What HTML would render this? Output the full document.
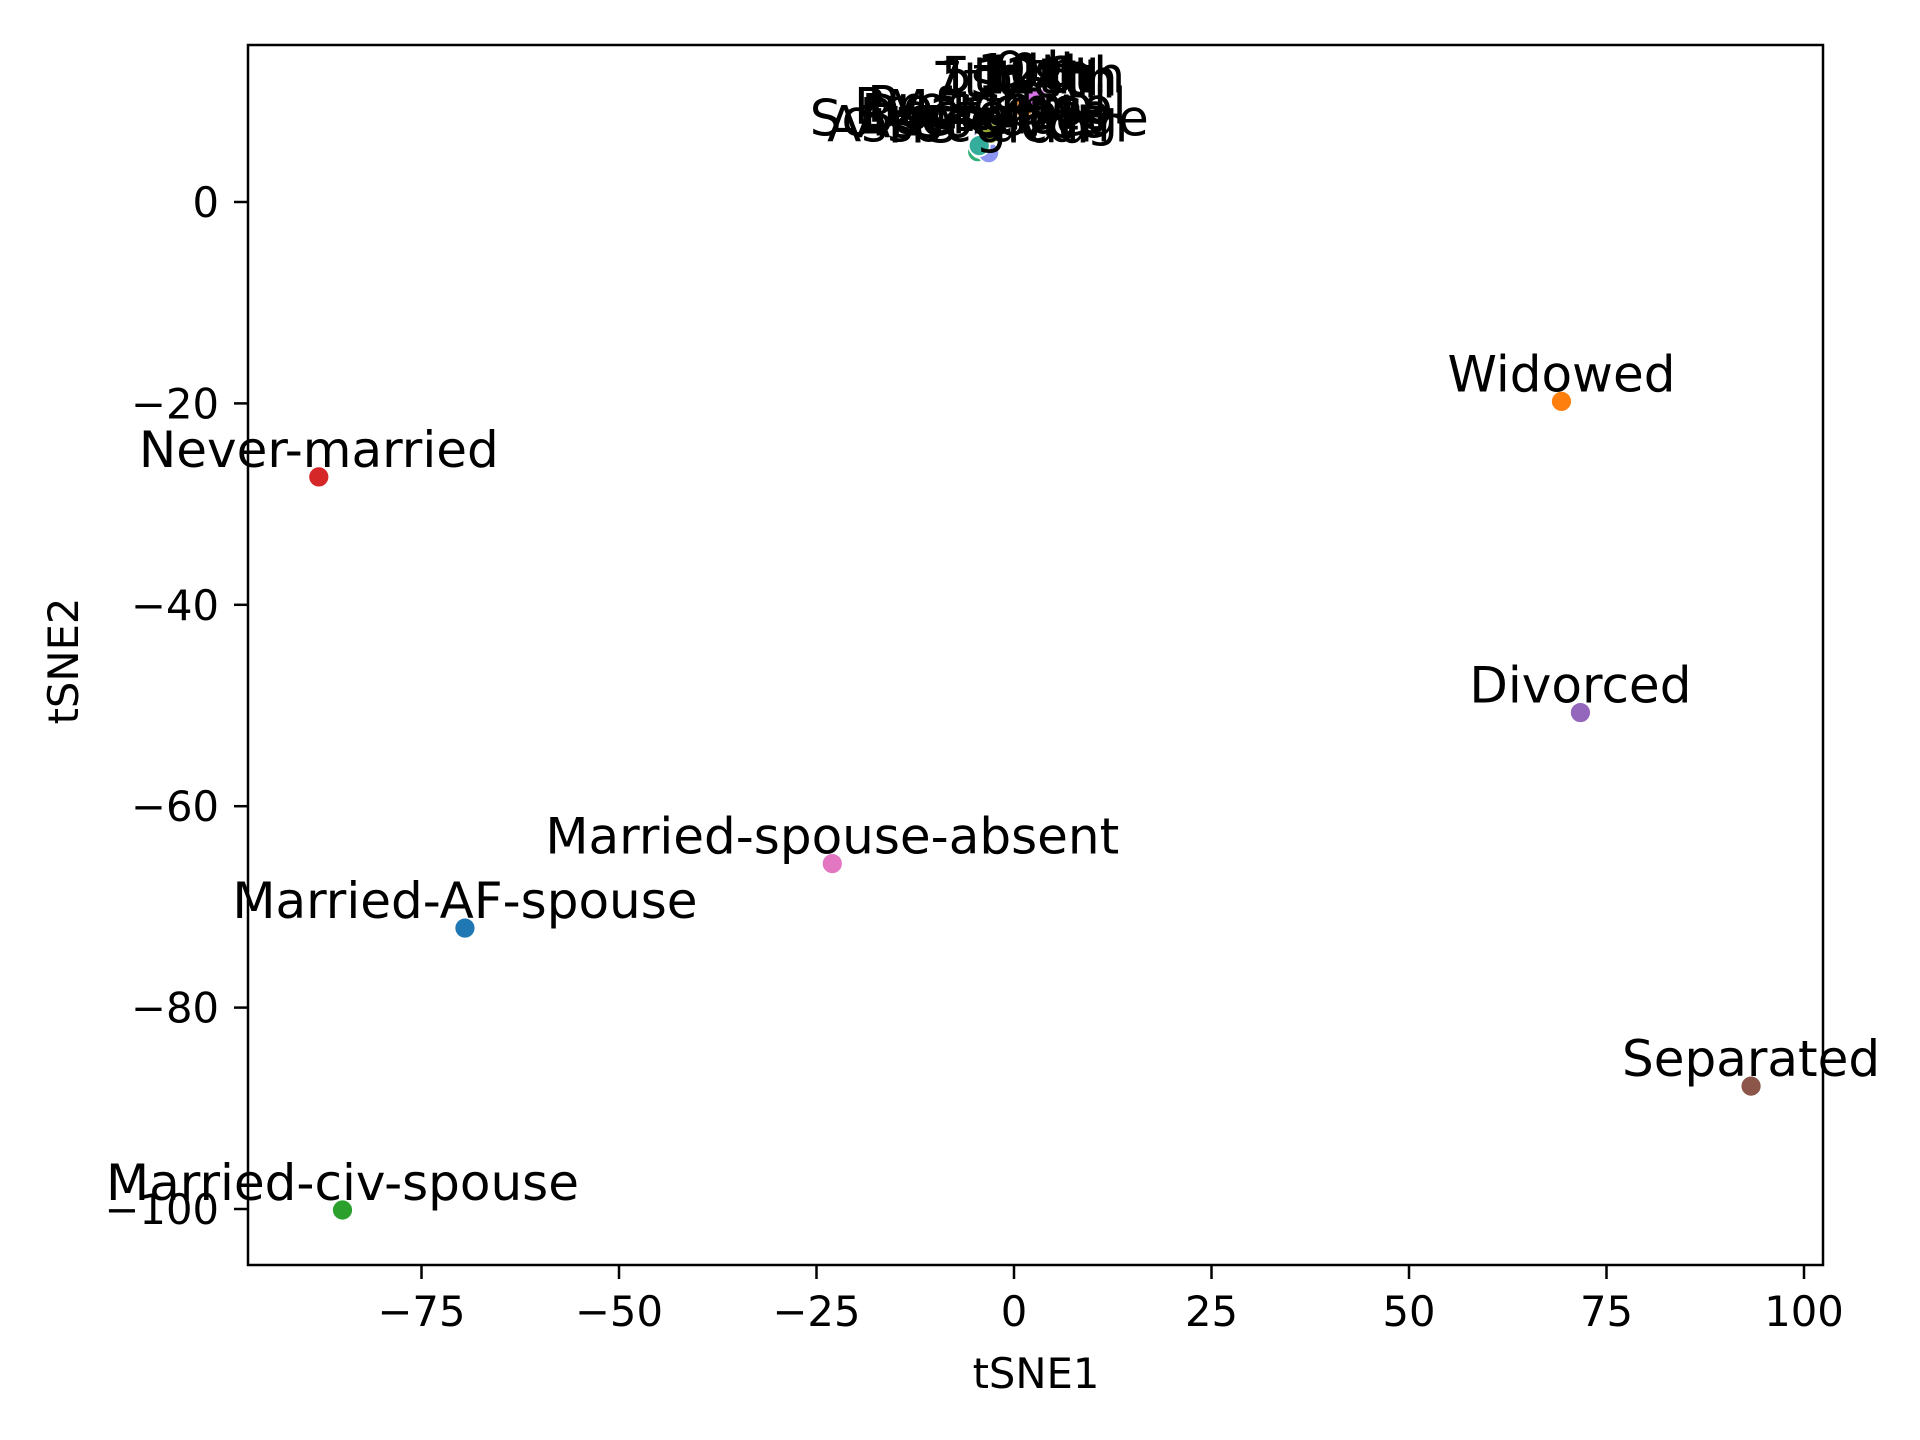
<!DOCTYPE html>
<html><head><meta charset="utf-8"><style>
html,body{margin:0;padding:0;background:#fff;}
svg{display:block;font-family:"DejaVu Sans","Liberation Sans",sans-serif;}
</style></head><body>
<svg id="chart" width="1920" height="1440" viewBox="0 0 1920 1440" xmlns="http://www.w3.org/2000/svg">
<rect width="1920" height="1440" fill="#fff"/>
<g id="marks"></g>
<g id="labels"></g>
<rect x="248" y="45" width="1575" height="1220" fill="none" stroke="#000" stroke-width="2.5"/>
<g id="xticks"></g>
<g id="yticks"></g>
<text x="1036" y="1388" font-size="41.7" text-anchor="middle">tSNE1</text>
<text x="0" y="0" font-size="41.7" text-anchor="middle" transform="translate(78,661) rotate(-90)">tSNE2</text>
</svg>
<script>
const maritalNames = ["Married-AF-spouse","Widowed","Married-civ-spouse","Never-married","Divorced","Separated","Married-spouse-absent"];
const maritalX = [-69.5, 69.3, -85.0, -88.0, 71.7, 93.3, -23.0];
const maritalY = [-72.1, -19.8, -100.1, -27.3, -50.7, -87.8, -65.7];
const maritalColors = ["#1f77b4","#ff7f0e","#2ca02c","#d62728","#9467bd","#8c564b","#e377c2"];
const eduNames = ["10th","11th","12th","1st-4th","5th-6th","7th-8th","9th","Assoc-acdm","Assoc-voc","Bachelors","Doctorate","HS-grad","Masters","Preschool","Prof-school","Some-college"];
const eduX = [2.6, 3.0, 2.2, 1.8, 2.4, 1.2, 2.8, -4.6, -4.2, -4.0, -3.6, -3.2, -3.8, -3.4, -3.0, -4.4];
const eduY = [10.2, 10.0, 9.8, 9.6, 9.9, 9.4, 10.4, 5.0, 5.4, 5.8, 6.2, 4.9, 6.6, 7.0, 6.8, 5.6];
const eduColors = ["#f77189","#f45cf2","#f565cc","#cc7af4","#f66bad","#e08c31","#d872e8","#33b07a","#36ada4","#38a9c5","#3ba3ec","#8e96f4","#a48cf4","#50b131","#97a431","#35ad9c"];
const xTicks = [-75,-50,-25,0,25,50,75,100];
const yTicks = [0,-20,-40,-60,-80,-100];
const NS="http://www.w3.org/2000/svg";
function sx(v){return 1014 + v*7.9;}
function sy(v){return 202 - v*10.07;}
function mk(tag,attrs,parent){const e=document.createElementNS(NS,tag);for(const k in attrs)e.setAttribute(k,attrs[k]);parent.appendChild(e);return e;}
function fmt(v){return v<0?"\u2212"+Math.abs(v):String(v);}
const marks=document.getElementById('marks'), labels=document.getElementById('labels');
const xt=document.getElementById('xticks'), yt=document.getElementById('yticks');
xTicks.forEach(v=>{
  const l=mk('line',{x1:sx(v),x2:sx(v),y1:1265,y2:1279,stroke:'#000','stroke-width':2.5},xt);
  
  
  const t=mk('text',{x:sx(v),y:1326,'font-size':41.7,'text-anchor':'middle'},xt);
  t.textContent=fmt(v);
  
  
});
yTicks.forEach(v=>{
  const l=mk('line',{x1:234,x2:248,y1:sy(v),y2:sy(v),stroke:'#000','stroke-width':2.5},yt);
  
  
  const t=mk('text',{x:219,y:sy(v)+15,'font-size':41.7,'text-anchor':'end'},yt);
  t.textContent=fmt(v);
  
  
});
function plot(names,xs,ys,cols,kind){
  names.forEach((n,i)=>{
    const c=mk('circle',{cx:sx(xs[i]),cy:sy(ys[i]),r:10.5,fill:cols[i],stroke:'#fff','stroke-width':1.8},marks);
    
    
    const t=mk('text',{x:sx(xs[i]),y:sy(ys[i])-10,'font-size':50,'text-anchor':'middle',fill:'#000'},labels);
    t.textContent=n;
    
    
  });
}
plot(eduNames,eduX,eduY,eduColors,'education');
plot(maritalNames,maritalX,maritalY,maritalColors,'marital-status');
</script>
</body></html>
